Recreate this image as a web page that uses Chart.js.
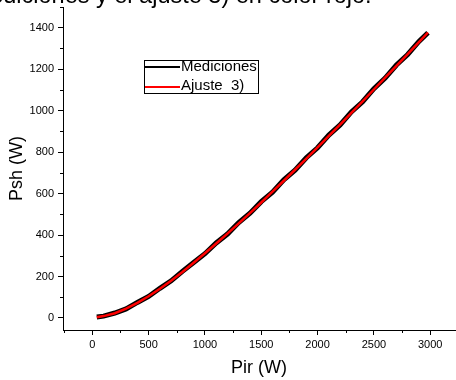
<!DOCTYPE html>
<html>
<head>
<meta charset="utf-8">
<script src="https://cdn.jsdelivr.net/npm/chart.js@4.4.1/dist/chart.umd.min.js"></script>
<style>
  body { margin: 0; background: #fff; }
  canvas { display: block; }
</style>
</head>
<body>
<canvas id="myChart" width="456" height="380"></canvas>
<script>
// Pir (W) sample points
var pir = [40, 100, 200, 300, 400, 500, 600, 700, 800, 900, 1000, 1100, 1200, 1300, 1400, 1500,
  1600, 1700, 1800, 1900, 2000, 2100, 2200, 2300, 2400, 2500, 2600, 2700, 2800, 2900, 2980];
// fitted curve, Ajuste 3)
var ajuste = [4, 9, 23, 45, 73, 105, 141, 180, 222, 266, 312, 359, 407, 456, 506, 557,
  609, 662, 715, 769, 823, 878, 933, 989, 1045, 1102, 1159, 1216, 1273, 1331, 1377];
// measured values (slightly noisy around the fit)
var mediciones = [5, 9, 24, 44, 75, 104, 143, 179, 225, 268, 310, 362, 405, 460, 505, 561,
  607, 666, 713, 773, 821, 882, 931, 994, 1043, 1106, 1157, 1220, 1271, 1334, 1376];

var xTicks = [0, 500, 1000, 1500, 2000, 2500, 3000];
var xMinor = [-250, 250, 750, 1250, 1750, 2250, 2750];
var yTicks = [0, 200, 400, 600, 800, 1000, 1200, 1400];
var yMinor = [100, 300, 500, 700, 900, 1100, 1300, 1500];

var fontFam = "Arial, 'Liberation Sans', sans-serif";
Chart.defaults.font.family = fontFam;
Chart.defaults.color = "#000";

function pts(xs, ys) {
  return xs.map(function (v, i) {
    return { x: v, y: ys[i] };
  });
}

// small outward minor ticks + cut caption + boxed legend
var extras = {
  id: "extras",
  afterDraw: function (chart) {
    var ctx = chart.ctx;
    var xs = chart.scales.x;
    var ys = chart.scales.y;
    ctx.save();
    ctx.strokeStyle = "#000";
    ctx.lineWidth = 1;
    ctx.beginPath();
    xMinor.forEach(function (v) {
      var px = Math.round(xs.getPixelForValue(v)) + 0.5;
      ctx.moveTo(px, xs.top);
      ctx.lineTo(px, xs.top + 3);
    });
    yMinor.forEach(function (v) {
      var py = Math.round(ys.getPixelForValue(v)) + 0.5;
      ctx.moveTo(ys.right, py);
      ctx.lineTo(ys.right - 3, py);
    });
    ctx.stroke();

    // caption above, mostly cut off by the top edge
    ctx.font = "23.5px " + fontFam;
    ctx.fillStyle = "#000";
    ctx.textAlign = "left";
    ctx.textBaseline = "alphabetic";
    var cap = "Mediciones y el ajuste 3) en color rojo.";
    var pre = ctx.measureText("Mediciones ").width;
    ctx.fillText(cap, 96 - pre, 3);

    // legend
    ctx.strokeRect(144.5, 60.5, 114, 33);
    ctx.lineWidth = 2;
    ctx.beginPath();
    ctx.moveTo(145, 67);
    ctx.lineTo(180, 67);
    ctx.stroke();
    ctx.strokeStyle = "#ff0000";
    ctx.beginPath();
    ctx.moveTo(145, 87);
    ctx.lineTo(180, 87);
    ctx.stroke();
    ctx.font = "15px " + fontFam;
    ctx.textBaseline = "middle";
    ctx.fillText("Mediciones", 181, 67);
    ctx.fillText("Ajuste  3)", 181, 86);
    ctx.restore();
  },
};

function plain(v) {
  return String(v);
}

const ctx = document.getElementById("myChart");

new Chart(ctx, {
  type: "scatter",
  data: {
    datasets: [
      {
        label: "Mediciones",
        data: pts(pir, mediciones),
        showLine: true,
        borderColor: "#000",
        borderWidth: 5,
        pointRadius: 0,
        order: 2,
      },
      {
        label: "Ajuste  3)",
        data: pts(pir, ajuste),
        showLine: true,
        borderColor: "#ff0000",
        borderWidth: 2.5,
        pointRadius: 0,
        order: 1,
      },
    ],
  },
  options: {
    responsive: false,
    devicePixelRatio: 1,
    animation: false,
    layout: { padding: { top: 7, right: 1, left: 0, bottom: 0 } },
    plugins: {
      legend: { display: false },
      tooltip: { enabled: false },
    },
    scales: {
      x: {
        type: "linear",
        min: -260,
        max: 3220,
        afterBuildTicks: function (scale) {
          scale.ticks = xTicks.map(function (v) {
            return { value: v };
          });
        },
        afterFit: function (scale) {
          scale.height = 50;
          scale.paddingLeft = 0;
          scale.paddingRight = 0;
        },
        ticks: {
          font: { size: 11 },
          color: "#000",
          padding: 3,
          maxRotation: 0,
          autoSkip: false,
          callback: plain,
        },
        grid: {
          drawOnChartArea: false,
          drawTicks: true,
          tickLength: 5,
          color: "#000",
        },
        border: { display: true, color: "#000", width: 1 },
        title: {
          display: true,
          text: "Pir (W)",
          font: { size: 18, lineHeight: 1.2 },
          color: "#000",
          padding: { top: 0, bottom: 1 },
        },
      },
      y: {
        type: "linear",
        min: -58,
        max: 1500,
        afterBuildTicks: function (scale) {
          scale.ticks = yTicks.map(function (v) {
            return { value: v };
          });
        },
        afterFit: function (scale) {
          scale.width = 63;
          scale.paddingTop = 0;
          scale.paddingBottom = 0;
        },
        ticks: {
          font: { size: 11 },
          color: "#000",
          padding: 4,
          callback: plain,
        },
        grid: {
          drawOnChartArea: false,
          drawTicks: true,
          tickLength: 5,
          color: "#000",
        },
        border: { display: true, color: "#000", width: 1 },
        title: {
          display: true,
          text: "Psh (W)",
          font: { size: 18, lineHeight: 1.2 },
          color: "#000",
          padding: { top: 6, bottom: 0 },
        },
      },
    },
  },
  plugins: [extras],
});
</script>
</body>
</html>
